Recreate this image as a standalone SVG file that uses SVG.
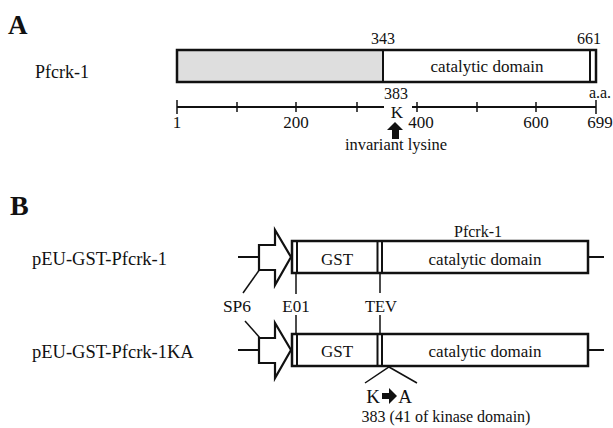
<svg xmlns="http://www.w3.org/2000/svg" width="613" height="428" viewBox="0 0 613 428">
<style>
text{font-family:"Liberation Serif","Times New Roman",serif;fill:#111}
.bx{fill:none;stroke:#111;stroke-width:2.5}
.ln{stroke:#111;stroke-width:2;fill:none}
.th{stroke:#111;stroke-width:1.5;fill:none}
.m{text-anchor:middle}
.lbl{font-size:18.5px}
.pl{font-weight:bold}
</style>
<rect width="613" height="428" fill="#fff"/>
<g id="panelA">
<text x="8" y="34" class="pl" font-size="27">A</text>
<text x="35" y="78" font-size="18">Pfcrk-1</text>
<g id="pfcrk1-box">
<rect x="177" y="50" width="206" height="32" fill="#dedede"/>
<rect x="177" y="50" width="419" height="32" class="bx"/>
<line x1="383" y1="50" x2="383" y2="82" class="ln"/>
<line x1="590" y1="50" x2="590" y2="82" class="ln"/>
<text x="487" y="72" class="m" font-size="17">catalytic domain</text>
<text x="383" y="44" class="m" font-size="16">343</text>
<text x="589" y="44" class="m" font-size="16">661</text>
</g>
<g id="scale">
<line x1="177" y1="107" x2="384" y2="107" class="ln"/>
<line x1="412" y1="107" x2="596" y2="107" class="ln"/>
<g class="th">
<line x1="177" y1="100" x2="177" y2="114"/>
<line x1="237" y1="102" x2="237" y2="112"/>
<line x1="296" y1="102" x2="296" y2="112"/>
<line x1="357" y1="102" x2="357" y2="112"/>
<line x1="417" y1="102" x2="417" y2="112"/>
<line x1="477" y1="102" x2="477" y2="112"/>
<line x1="536" y1="102" x2="536" y2="112"/>
<line x1="596" y1="100" x2="596" y2="114"/>
</g>
<text x="177" y="128" class="m" font-size="17">1</text>
<text x="296" y="128" class="m" font-size="17">200</text>
<text x="421" y="128" class="m" font-size="17">400</text>
<text x="536" y="128" class="m" font-size="17">600</text>
<text x="600" y="128" class="m" font-size="17">699</text>
<text x="600" y="98" class="m" font-size="16">a.a.</text>
<text x="396" y="99" class="m" font-size="16">383</text>
<text x="397" y="118" class="m" font-size="17">K</text>
<polygon points="395,122 403,130 399,130 399,139 392,139 392,130 387,130" fill="#111"/>
<text x="396" y="150" class="m" font-size="16.5">invariant lysine</text>
</g>
</g>
<g id="panelB">
<text x="10" y="215" class="pl" font-size="28">B</text>
<text x="32" y="265" class="lbl">pEU-GST-Pfcrk-1</text>
<text x="32" y="358" class="lbl">pEU-GST-Pfcrk-1KA</text>
<text x="478" y="237" class="m" font-size="16">Pfcrk-1</text>
<g id="construct1">
<line x1="238" y1="257" x2="259" y2="257" class="ln"/>
<polygon points="259,245 275,245 275,230 291,257 275,285 275,270 259,270" fill="#fff" stroke="#111" stroke-width="2.2" stroke-linejoin="miter"/>
<rect x="292" y="241" width="296" height="32" class="bx"/>
<line x1="297" y1="241" x2="297" y2="273" class="ln"/>
<line x1="377.5" y1="241" x2="377.5" y2="273" class="ln"/>
<line x1="382" y1="241" x2="382" y2="273" class="ln"/>
<line x1="588" y1="257" x2="604" y2="257" class="ln"/>
<text x="337" y="265" class="m" font-size="17">GST</text>
<text x="485" y="265" class="m" font-size="17">catalytic domain</text>
</g>
<g id="construct2">
<line x1="238" y1="350" x2="259" y2="350" class="ln"/>
<polygon points="259,338 275,338 275,323 291,350 275,378 275,363 259,363" fill="#fff" stroke="#111" stroke-width="2.2" stroke-linejoin="miter"/>
<rect x="292" y="334" width="296" height="32" class="bx"/>
<line x1="297" y1="334" x2="297" y2="366" class="ln"/>
<line x1="377.5" y1="334" x2="377.5" y2="366" class="ln"/>
<line x1="382" y1="334" x2="382" y2="366" class="ln"/>
<line x1="588" y1="350" x2="604" y2="350" class="ln"/>
<text x="337" y="357" class="m" font-size="17">GST</text>
<text x="485" y="357" class="m" font-size="17">catalytic domain</text>
</g>
<g id="connectors">
<line x1="260" y1="269" x2="243" y2="293" class="th"/>
<line x1="245" y1="321" x2="260" y2="338" class="th"/>
<line x1="296" y1="273" x2="296" y2="294" class="th"/>
<line x1="296" y1="315" x2="296" y2="334" class="th"/>
<line x1="380" y1="273" x2="380" y2="293" class="th"/>
<line x1="380" y1="315" x2="380" y2="334" class="th"/>
<polyline points="365,383 389,367 417,383" class="th"/>
</g>
<text x="237" y="312" class="m" font-size="17.5">SP6</text>
<text x="296" y="312" class="m" font-size="17">E01</text>
<text x="381" y="312" class="m" font-size="16.5">TEV</text>
<text x="373" y="403" class="m" font-size="19">K</text>
<polygon points="382,393 389,393 389,388 397,396 389,404 389,399 382,399" fill="#111"/>
<text x="405" y="403" class="m" font-size="19">A</text>
<text x="446" y="422" class="m" font-size="16">383 (41 of kinase domain)</text>
</g>
</svg>
